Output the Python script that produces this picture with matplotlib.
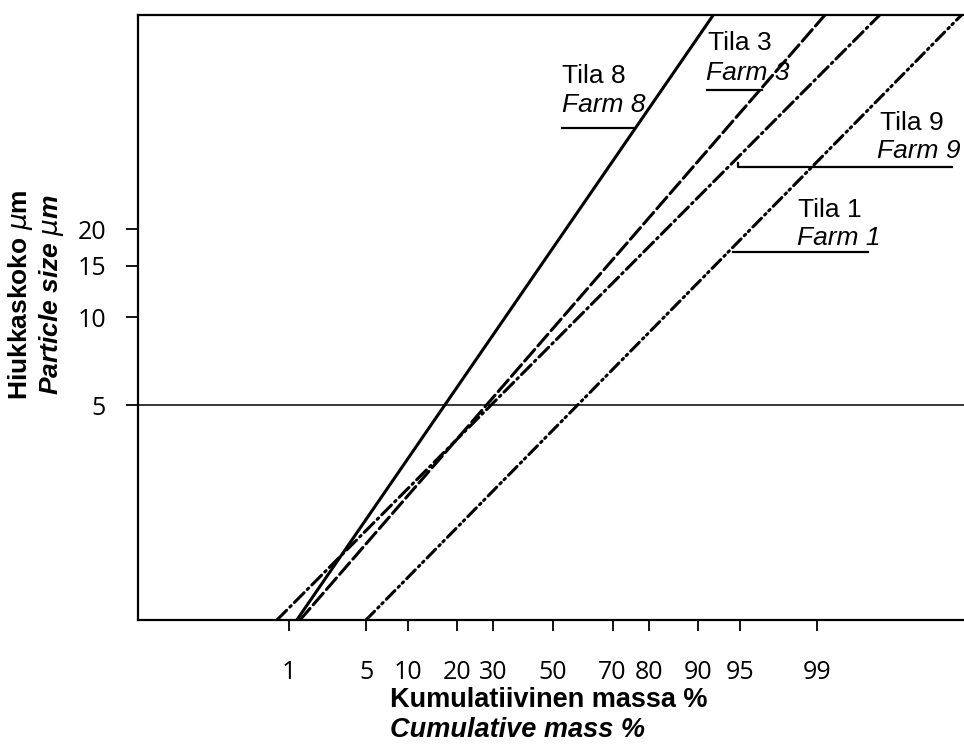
import math
import numpy as np
import matplotlib
matplotlib.use('Agg')
import matplotlib.pyplot as plt
from matplotlib.ticker import FixedLocator, NullLocator, FixedFormatter
from matplotlib.lines import Line2D

# particle sizes (um) where each line meets the bottom / top of the frame
size_um = [0.92, 108.0]
# cumulative mass % at those sizes
farms = ['Tila 8', 'Tila 3', 'Tila 9', 'Tila 1']
farms_en = ['Farm 8', 'Farm 3', 'Farm 9', 'Farm 1']
cum_pct = [
    [1.20, 92.1],
    [1.29, 99.17],
    [0.75, 99.80],
    [4.97, 99.984],
]
x_ticks = [1, 5, 10, 20, 30, 50, 70, 80, 90, 95, 99]
y_ticks = [5, 10, 15, 20]

W, H = 964, 744

_erf = np.vectorize(math.erf, otypes=[float])


def cdf(z):
    return 0.5 * (1.0 + _erf(np.asarray(z, dtype=float) / math.sqrt(2.0)))


def ppf(q):
    q = np.clip(np.asarray(q, dtype=float), 1e-12, 1 - 1e-12)
    lo = np.full(q.shape, -8.0)
    hi = np.full(q.shape, 8.0)
    for _ in range(60):
        mid = 0.5 * (lo + hi)
        below = cdf(mid) < q
        lo = np.where(below, mid, lo)
        hi = np.where(below, hi, mid)
    return 0.5 * (lo + hi)


def fwd(p):
    return ppf(np.asarray(p, dtype=float) / 100.0)


def inv(z):
    return 100.0 * cdf(z)


def px(x, y):
    return x / W, 1 - y / H


fig = plt.figure(figsize=(W / 100, H / 100), dpi=100)
ax = fig.add_axes([138 / W, 1 - 620 / H, 1 - 138 / W, (620 - 15) / H])
ax.set_xscale('function', functions=(fwd, inv))
ax.set_yscale('log')
ax.set_xlim(0.0128, 99.9853)
ax.set_ylim(size_um[0], size_um[1])

styles = [
    dict(ls='-'),
    dict(ls=(0, (5, 1.6))),
    dict(ls=(0, (4.5, 1.5, 0.6, 1.5))),
    dict(ls=(0, (4, 1.5, 0.6, 1.3, 0.6, 1.5))),
]
for pct, st in zip(cum_pct, styles):
    ax.plot(pct, size_um, color='black', lw=2.2, dash_capstyle='round', **st)

ax.axhline(5, color='black', lw=1.1)

ax.xaxis.set_major_locator(FixedLocator(x_ticks))
ax.xaxis.set_major_formatter(FixedFormatter([str(t) for t in x_ticks]))
ax.xaxis.set_minor_locator(NullLocator())
ax.yaxis.set_major_locator(FixedLocator(y_ticks))
ax.yaxis.set_major_formatter(FixedFormatter([str(t) for t in y_ticks]))
ax.yaxis.set_minor_locator(NullLocator())
ax.tick_params(axis='x', length=8, width=1.3, pad=21, labelsize=18)
ax.tick_params(axis='y', length=9, width=1.3, pad=14, labelsize=18)
for lab in ax.get_xticklabels() + ax.get_yticklabels():
    lab.set_family('Open Sans')

ax.spines['right'].set_visible(False)
for s in ['left', 'bottom', 'top']:
    ax.spines[s].set_linewidth(1.6)

# axis titles
fig.text(*px(390, 707), 'Kumulatiivinen massa %', ha='left', va='baseline',
         fontsize=19.5, fontweight='bold', family='Liberation Sans')
fig.text(*px(390, 737), 'Cumulative mass %', ha='left', va='baseline',
         fontsize=19.5, fontweight='bold', style='italic', family='Liberation Sans')
fig.text(*px(21, 295), 'Hiukkaskoko $\\mu$m', ha='center', va='center', rotation=90,
         fontsize=19, fontweight='bold', family='Liberation Sans')
fig.text(*px(51, 295), 'Particle size $\\mu$m', ha='center', va='center', rotation=90,
         fontsize=19, fontweight='bold', style='italic', family='Liberation Sans')

# farm labels with leader lines
labels_pos = [
    ((562, 83), (562, 112), ((562, 633), (128, 128))),
    ((708, 50), (706, 80), ((707, 762), (90, 90))),
    ((880, 130), (877, 158), ((738, 738, 952), (163, 167, 167))),
    ((798, 217), (797, 245), ((733, 868), (252, 252))),
]
for fi, fe, (p1, p2, (lx, ly)) in zip(farms, farms_en, labels_pos):
    fig.text(*px(*p1), fi, ha='left', va='baseline', fontsize=19, family='Liberation Sans')
    fig.text(*px(*p2), fe, ha='left', va='baseline', fontsize=19, style='italic',
             family='Liberation Sans')
    fig.add_artist(Line2D([x / W for x in lx], [1 - y / H for y in ly],
                          color='black', lw=1.6))

fig.savefig('out.png', dpi=100)
